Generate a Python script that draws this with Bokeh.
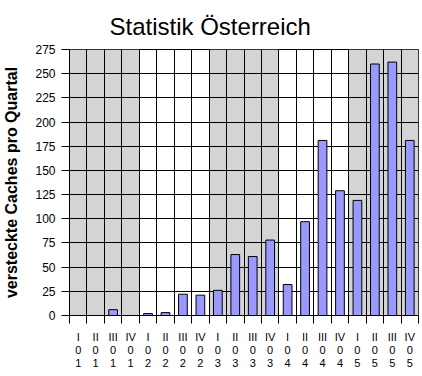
from bokeh.plotting import figure
from bokeh.models import FixedTicker, Range1d
from bokeh.embed import file_html
from bokeh.resources import INLINE

# ---- data ----
quarters = ["I", "II", "III", "IV"] * 5
years = ["01"] * 4 + ["02"] * 4 + ["03"] * 4 + ["04"] * 4 + ["05"] * 4
values = [0, 0, 6, 0, 2, 3, 22, 21, 26, 63, 61, 78, 32, 97, 181, 129, 119, 260, 262, 181]
shaded_years = ["01", "03", "05"]
y_ticks = list(range(0, 276, 25))
y_max = 275

n = len(values)
centers = [i + 0.5 for i in range(n)]
bounds = list(range(n + 1))
labels = {c: "\n".join([q, y[0], y[1]]) for c, q, y in zip(centers, quarters, years)}

band_left = [i for i, y in enumerate(years) if y in shaded_years]
band_right = [i + 1 for i in band_left]

FONT = "Liberation Sans"

p = figure(width=422, height=376, output_backend="svg", toolbar_location=None,
           x_range=Range1d(0, n), y_range=Range1d(0, y_max),
           title="Statistik Österreich")
p.min_border_left = 68
p.min_border_right = 4
p.min_border_top = 47
p.min_border_bottom = 61
p.background_fill_color = "white"
p.border_fill_color = "white"
p.outline_line_color = "black"
p.outline_line_width = 1

p.title.text_font = FONT
p.title.text_font_size = "24px"
p.title.text_font_style = "normal"
p.title.align = "left"
p.title.offset = 40
p.title.standoff = 20
p.title.text_color = "black"

# bands
p.quad(left=band_left, right=band_right, bottom=0, top=y_max,
       fill_color="#D4D4D4", line_color=None, level="image")

# grid
p.xgrid.ticker = FixedTicker(ticks=bounds)
p.xgrid.grid_line_color = "black"
p.xgrid.grid_line_width = 1
p.ygrid.ticker = FixedTicker(ticks=y_ticks)
p.ygrid.grid_line_color = "black"
p.ygrid.grid_line_width = 1

# bars
p.vbar(x=centers, top=values, width=0.5, fill_color="#9999FF",
       line_color="black", line_width=1)

# x axis
xa = p.xaxis[0]
xa.ticker = FixedTicker(ticks=centers, minor_ticks=bounds)
xa.major_tick_line_color = None
xa.minor_tick_line_color = "black"
xa.minor_tick_out = 8
xa.minor_tick_in = 0
xa.major_label_overrides = labels
xa.major_label_text_font = FONT
xa.major_label_text_font_size = "11px"
xa.major_label_text_line_height = 1.1
xa.major_label_text_color = "black"
xa.major_label_standoff = 7
xa.axis_line_color = "black"

# y axis
ya = p.yaxis[0]
ya.ticker = FixedTicker(ticks=y_ticks)
ya.major_tick_out = 8
ya.major_tick_in = 0
ya.minor_tick_line_color = None
ya.major_tick_line_color = "black"
ya.major_label_text_font = FONT
ya.major_label_text_font_size = "12px"
ya.major_label_text_color = "black"
ya.major_label_standoff = 6
ya.axis_line_color = "black"
ya.axis_label = "versteckte Caches pro Quartal"
ya.axis_label_text_font = FONT
ya.axis_label_text_font_size = "16px"
ya.axis_label_text_font_style = "bold"
ya.axis_label_text_color = "black"
ya.axis_label_standoff = 12

open("out.html", "w").write(file_html(p, INLINE))
